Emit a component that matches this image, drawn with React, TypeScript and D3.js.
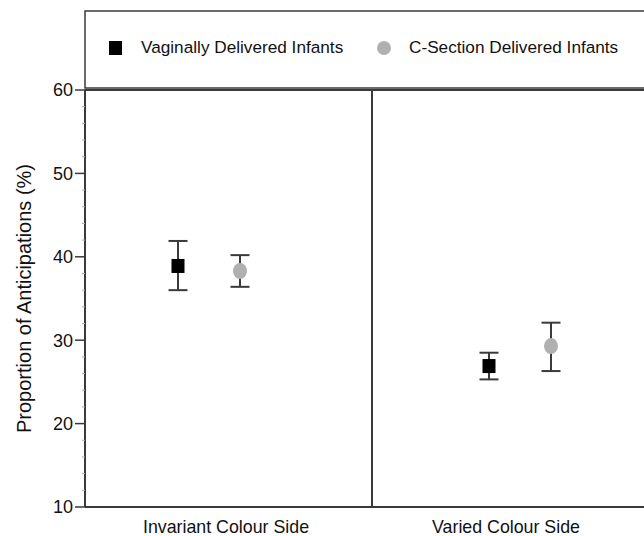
import React from 'react'
import * as d3 from 'd3'

const categories = ['Invariant Colour Side', 'Varied Colour Side']
const seriesNames = ['Vaginally Delivered Infants', 'C-Section Delivered Infants']
const vaginalMean = [38.9, 26.9]
const vaginalLow = [36.0, 25.3]
const vaginalHigh = [41.9, 28.5]
const csectionMean = [38.3, 29.3]
const csectionLow = [36.4, 26.3]
const csectionHigh = [40.2, 32.1]
const yTicks = [10, 20, 30, 40, 50, 60]

const W = 644
const H = 536
const font = '"Liberation Sans", Arial, Helvetica, sans-serif'
const axisColor = '#3a3a3a'

export default function App() {
  const left = 85
  const right = 660
  const top = 90
  const bottom = 507

  const y = d3.scaleLinear().domain([10, 60]).range([bottom, top])
  const minor = d3.range(10, 61, 2).filter(v => v % 10 !== 0)

  // panels, marker positions and labels
  const panel = d3.scaleBand().domain(categories).range([left, left + 2 * 287])
  const xPoint = d3.scalePoint().domain(categories).range([209, 520])
  const xLabel = d3.scalePoint().domain(categories).range([226, 506])
  const offset = 31

  const series = [
    { name: seriesNames[0], mean: vaginalMean, lo: vaginalLow, hi: vaginalHigh, dx: -offset, shape: 'square', color: '#000' },
    { name: seriesNames[1], mean: csectionMean, lo: csectionLow, hi: csectionHigh, dx: offset, shape: 'circle', color: '#b0b0b0' },
  ]

  const capHalf = 9.5

  return (
    <svg width={W} height={H} style={{ position: 'absolute', left: 0, top: 0, background: '#fff' }} fontFamily={font}>
      {/* legend box */}
      <rect x={left} y={11} width={right - left} height={77} fill="none" stroke={axisColor} strokeWidth={1.5} />
      <rect x={109} y={41} width={13} height={14} fill="#000" />
      <text x={141} y={53} fontSize={17.2} fill="#111">{seriesNames[0]}</text>
      <circle cx={384} cy={48} r={7} fill="#b0b0b0" />
      <text x={409} y={53} fontSize={17.2} fill="#111">{seriesNames[1]}</text>

      {/* plot frame */}
      <line x1={left} x2={right} y1={top} y2={top} stroke={axisColor} strokeWidth={2} />
      <line x1={left} x2={right} y1={bottom} y2={bottom} stroke={axisColor} strokeWidth={2} />
      <line x1={left} x2={left} y1={top} y2={bottom} stroke={axisColor} strokeWidth={2} />
      <line x1={panel.step() + left} x2={panel.step() + left} y1={top} y2={bottom} stroke={axisColor} strokeWidth={2} />

      {/* y axis ticks */}
      {minor.map(v => (
        <line key={'m' + v} x1={left - 3} x2={left} y1={y(v)} y2={y(v)} stroke="#aaa" strokeWidth={1} />
      ))}
      {yTicks.map(v => (
        <g key={v}>
          <line x1={left - 10} x2={left} y1={y(v)} y2={y(v)} stroke={axisColor} strokeWidth={1.5} />
          <text x={left - 12} y={y(v)} dy="0.36em" textAnchor="end" fontSize={18} fill="#111">{v}</text>
        </g>
      ))}
      <text transform={`translate(31,${(top + bottom) / 2}) rotate(-90)`} textAnchor="middle" fontSize={20} fill="#111">
        Proportion of Anticipations (%)
      </text>

      {/* x labels */}
      {categories.map(c => (
        <text key={c} x={xLabel(c)} y={533} textAnchor="middle" fontSize={17.8} fill="#111">{c}</text>
      ))}

      {/* error bars and markers */}
      {series.map(s => categories.map((c, i) => {
        const cx = (xPoint(c) as number) + s.dx
        return (
          <g key={s.name + c}>
            <line x1={cx} x2={cx} y1={y(s.hi[i])} y2={y(s.lo[i])} stroke={axisColor} strokeWidth={2} />
            <line x1={cx - capHalf} x2={cx + capHalf} y1={y(s.hi[i])} y2={y(s.hi[i])} stroke={axisColor} strokeWidth={2} />
            <line x1={cx - capHalf} x2={cx + capHalf} y1={y(s.lo[i])} y2={y(s.lo[i])} stroke={axisColor} strokeWidth={2} />
            {s.shape === 'square'
              ? <rect x={cx - 6.5} y={y(s.mean[i]) - 7} width={13} height={14} fill={s.color} />
              : <ellipse cx={cx} cy={y(s.mean[i])} rx={7} ry={8} fill={s.color} />}
          </g>
        )
      }))}
    </svg>
  )
}
